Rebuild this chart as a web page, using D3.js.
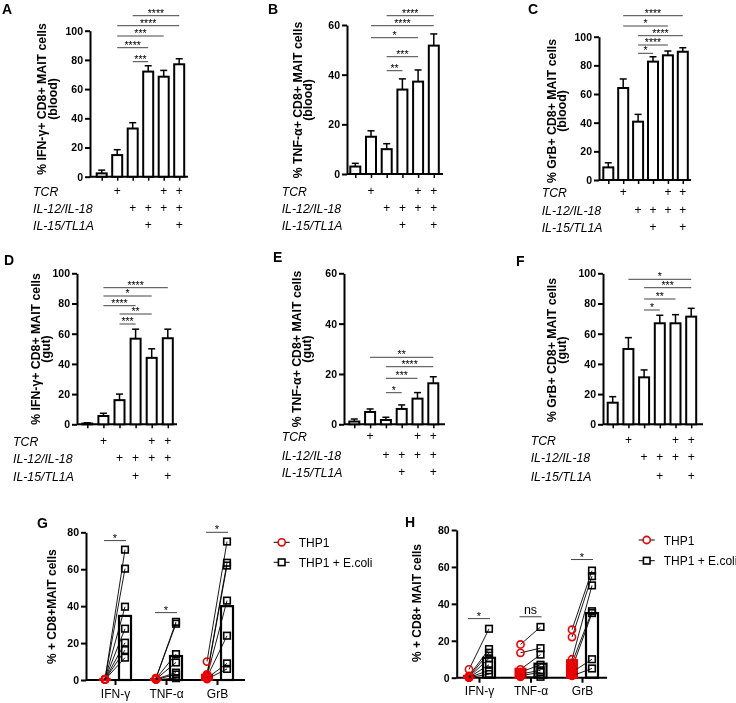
<!DOCTYPE html>
<html><head><meta charset="utf-8">
<script src="https://cdn.jsdelivr.net/npm/d3@7"></script>
<style>body{margin:0;background:#fff} svg{will-change:transform} text{font-family:"Liberation Sans", Arial, sans-serif}</style>
</head><body>
<svg id="c" width="736" height="703"></svg>
<script>
// ---------- DATA ----------
const conditions = ["none","TCR","IL12/18","IL12/18+IL15/TL1A","TCR+IL12/18","TCR+IL12/18+IL15/TL1A"];
const rowLabels = ["TCR","IL-12/IL-18","IL-15/TL1A"];
const tcrRow  = [0,1,0,0,1,1];
const il12Row = [0,0,1,1,1,1];
const il15Row = [0,0,0,1,0,1];

const aMean = [2.3, 14.8, 33, 72, 68.5, 77];
const aErr  = [4.5, 18.5, 37, 76, 72.8, 80.8];
const aSig  = [[2,5,"****"],[1,5,"****"],[1,4,"***"],[1,3,"****"],[2,3,"***"]];

const bMean = [3, 15, 10, 34, 37.2, 51.7];
const bErr  = [4.3, 17.4, 12.2, 38.3, 41.9, 56.4];
const bSig  = [[2,5,"****"],[1,5,"****"],[1,4,"*"],[2,4,"***"],[2,3,"**"]];

const cMean = [8.8, 64.2, 40.7, 82.6, 87, 89.5];
const cErr  = [12, 70.5, 45.8, 86, 90, 92.3];
const cSig  = [[1,5,"****"],[1,4,"*"],[2,5,"****"],[2,4,"****"],[2,3,"*"]];

const dMean = [0.5, 5.5, 16, 56.7, 44, 57];
const dErr  = [1, 7.3, 20, 63, 50, 63];
const dSig  = [[1,5,"****"],[1,4,"*"],[1,3,"****"],[2,4,"**"],[2,3,"***"]];

const eMean = [1.1, 4.9, 1.7, 6.1, 10.2, 16.3];
const eErr  = [2.1, 6.1, 2.8, 7.7, 12.6, 18.9];
const eSig  = [[1,5,"**"],[2,5,"****"],[2,4,"***"],[2,3,"*"]];

const fMean = [14.3, 49.9, 31.1, 66.9, 66.9, 71.3];
const fErr  = [18.3, 57.4, 36, 72.2, 72.6, 76.8];
const fSig  = [[1,5,"*"],[2,5,"***"],[2,4,"**"],[2,3,"*"]];

const yTicks100 = [0,20,40,60,80,100];
const yTicks60  = [0,20,40,60];
const yTicks80  = [0,20,40,60,80];

const cytokines = ["IFN-\u03b3","TNF-\u03b1","GrB"];
const seriesNames = ["THP1","THP1 + E.coli"];

// Panel G (per donor, paired)
const gThp1 = [
  [0.5,0.5,0.4,0.3,0.3,0.2,0.2],
  [1,1,0.8,0.5,0.5,0.3,0.2],
  [10,3,2.5,2,1.5,1,0.5]
];
const gEcoli = [
  [70.6,60.3,39.7,27.8,20.2,16.2,12.1],
  [31.5,30.5,14,9.5,4,3,1],
  [75,63.5,62,43,24,9,6]
];
const gThp1Bar  = [0.4, 0.6, 2.9];
const gEcoliBar = [34.7, 13, 40];
const gSig = ["*","*","*"];
const gSigVal = [75.5, 36.5, 80];

// Panel H
const hThp1 = [
  [4.5,1,0.5,0.3,0.2,0.1,0],
  [18,13.5,4.5,3,2,1,0.5],
  [26,22,10,8,5,3,1]
];
const hEcoli = [
  [26.5,15.5,13.5,10.5,7,4,2],
  [27.5,16,12.5,7,4,3,0.5],
  [58,55,50,36,35,10,5]
];
const hThp1Bar  = [1, 4.9, 9.5];
const hEcoliBar = [10.8, 7.6, 35];
const hSig = ["*","ns","*"];
const hSigVal = [32, 33, 64];

// ---------- DRAW ----------
const svg = d3.select("#c");
const FONT = '"Liberation Sans", Arial, sans-serif';

function panelLetter(t, x, y){
  svg.append("text").attr("x",x).attr("y",y).text(t)
    .attr("font-size",14).attr("font-weight","bold");
}

function yAxis(g, y, ticks, x){
  const ax = g.append("g").attr("transform",`translate(${x},0)`)
    .call(d3.axisLeft(y).tickValues(ticks).tickSize(5).tickSizeOuter(0).tickPadding(2));
  ax.select(".domain").attr("stroke","#000").attr("stroke-width",2);
  ax.selectAll(".tick line").attr("stroke","#000").attr("stroke-width",2);
  ax.selectAll(".tick text").attr("font-size",10.5).attr("font-weight","bold")
    .attr("font-family",FONT).attr("fill","#000");
}

function yLabel(lines, x1, x2, cy){
  lines.forEach((t,i)=>{
    svg.append("text").attr("transform",`translate(${i?x2:x1},${cy}) rotate(-90)`)
      .attr("text-anchor","middle").attr("dominant-baseline","central")
      .attr("font-size",12.3).attr("font-weight","bold").text(t);
  });
}

function barPanel(o){
  const g = svg.append("g");
  const y = d3.scaleLinear().domain([0,o.yMax]).range([o.y0,o.yTop]);
  const x = d3.scalePoint().domain(conditions).range([o.x0, o.x0+5*o.step]);
  const bw = 10;
  g.append("line").attr("x1",o.axisX).attr("x2",o.xEnd).attr("y1",o.y0).attr("y2",o.y0)
    .attr("stroke","#000").attr("stroke-width",2);
  const xa = g.append("g").attr("transform",`translate(0,${o.y0})`)
    .call(d3.axisBottom(x).tickSize(4).tickFormat(""));
  xa.select(".domain").remove();
  xa.selectAll(".tick line").attr("stroke","#000").attr("stroke-width",1.5);
  yAxis(g, y, o.ticks, o.axisX);
  conditions.forEach((c,i)=>{
    const cx = x(c);
    g.append("line").attr("x1",cx).attr("x2",cx).attr("y1",y(o.mean[i])).attr("y2",y(o.err[i]))
      .attr("stroke","#000").attr("stroke-width",1.5);
    g.append("line").attr("x1",cx-3.5).attr("x2",cx+3.5).attr("y1",y(o.err[i])).attr("y2",y(o.err[i]))
      .attr("stroke","#000").attr("stroke-width",1.5);
  });
  g.selectAll("rect.bar").data(o.mean).enter().append("rect")
    .attr("x",(d,i)=>x(conditions[i])-bw/2).attr("y",d=>y(d))
    .attr("width",bw).attr("height",d=>o.y0-y(d))
    .attr("fill","#fff").attr("stroke","#000").attr("stroke-width",2);
  o.sig.forEach((s,k)=>{
    const ly = o.sigY[k];
    g.append("line").attr("x1",x(conditions[s[0]])).attr("x2",x(conditions[s[1]]))
      .attr("y1",ly).attr("y2",ly).attr("stroke","#444").attr("stroke-width",1);
    g.append("text").attr("x",(x(conditions[s[0]])+x(conditions[s[1]]))/2).attr("y",ly+1)
      .attr("text-anchor","middle").attr("font-size",10.5).text(s[2]);
  });
  const rows = [tcrRow, il12Row, il15Row];
  rows.forEach((r,ri)=>{
    const by = o.rowY[ri]+4;
    g.append("text").attr("x",o.labX).attr("y",by).attr("font-size",12.3)
      .attr("font-style","italic").text(rowLabels[ri]);
    r.forEach((v,i)=>{ if(v) g.append("text").attr("x",x(conditions[i])).attr("y",by-1)
      .attr("text-anchor","middle").attr("font-size",12).attr("fill","#000").text("+"); });
  });
  yLabel(o.ylab, o.ylx1, o.ylx2, o.ylcy);
  panelLetter(o.letter, o.lx, o.ly);
}

barPanel({letter:"A",lx:2,ly:14,mean:aMean,err:aErr,sig:aSig,yMax:100,ticks:yTicks100,
  y0:176.7,yTop:30.7,axisX:90,x0:101.7,step:15.5,xEnd:188,labX:33,rowY:[192,209,226],
  sigY:[15.7,25.7,36,47.7,61.7],ylab:["% IFN-\u03b3+ CD8+ MAIT cells","(blood)"],ylx1:42,ylx2:53,ylcy:99});
barPanel({letter:"B",lx:268,ly:14,mean:bMean,err:bErr,sig:bSig,yMax:60,ticks:yTicks60,
  y0:174,yTop:25,axisX:347,x0:355.3,step:15.7,xEnd:443,labX:281.7,rowY:[192,209,226],
  sigY:[15.7,25.7,37.7,56.7,70.7],ylab:["% TNF-\u03b1+ CD8+ MAIT cells","(blood)"],ylx1:297.7,ylx2:308.3,ylcy:100});
barPanel({letter:"C",lx:528,ly:14,mean:cMean,err:cErr,sig:cSig,yMax:100,ticks:yTicks100,
  y0:180,yTop:36.7,axisX:599,x0:608.3,step:14.9,xEnd:691,labX:541.7,rowY:[192.7,210.5,227.7],
  sigY:[15.7,26,35.7,45,53.3],ylab:["% GrB+ CD8+ MAIT cells","(blood)"],ylx1:551.5,ylx2:561.5,ylcy:111});
barPanel({letter:"D",lx:4,ly:265,mean:dMean,err:dErr,sig:dSig,yMax:100,ticks:yTicks100,
  y0:424.3,yTop:273.3,axisX:77,x0:87.3,step:16.1,xEnd:177,labX:13,rowY:[441.5,459,477],
  sigY:[287.7,296,305.7,314,324],ylab:["% IFN-\u03b3+ CD8+ MAIT cells","(gut)"],ylx1:36,ylx2:46,ylcy:349});
barPanel({letter:"E",lx:273,ly:262,mean:eMean,err:eErr,sig:eSig,yMax:60,ticks:yTicks60,
  y0:424.3,yTop:273.3,axisX:344,x0:354.3,step:15.8,xEnd:445,labX:281.7,rowY:[436.5,455.5,472.5],
  sigY:[357.3,366.7,378.3,392.7],ylab:["% TNF-\u03b1+ CD8+ MAIT cells","(gut)"],ylx1:296.7,ylx2:307,ylcy:349});
barPanel({letter:"F",lx:516,ly:266,mean:fMean,err:fErr,sig:fSig,yMax:100,ticks:yTicks100,
  y0:424.3,yTop:273.3,axisX:603,x0:612.7,step:15.7,xEnd:703,labX:530.7,rowY:[440.5,458.3,477],
  sigY:[279.3,287.7,299,310],ylab:["% GrB+ CD8+ MAIT cells","(gut)"],ylx1:551.7,ylx2:561.7,ylcy:350});

function pairedPanel(o){
  const g = svg.append("g");
  const y = d3.scaleLinear().domain([0,80]).range([o.y0,o.yTop]);
  const x = d3.scalePoint().domain(cytokines).range([o.c0, o.c0+2*o.cstep]);
  const off = 10;
  g.append("line").attr("x1",o.axisX).attr("x2",o.xEnd).attr("y1",o.y0).attr("y2",o.y0)
    .attr("stroke","#000").attr("stroke-width",2);
  const xa = g.append("g").attr("transform",`translate(0,${o.y0})`)
    .call(d3.axisBottom(x).tickSize(5).tickPadding(4));
  xa.select(".domain").remove();
  xa.selectAll(".tick line").attr("stroke","#000").attr("stroke-width",2);
  xa.selectAll(".tick text").attr("font-size",12).attr("font-family",FONT).attr("fill","#000");
  yAxis(g, y, yTicks80, o.axisX);
  cytokines.forEach((c,i)=>{
    const xr = x(c)-off, xb = x(c)+off;
    g.append("rect").attr("x",xb-6).attr("y",y(o.eBar[i])).attr("width",12)
      .attr("height",o.y0-y(o.eBar[i])).attr("fill","none").attr("stroke","#000").attr("stroke-width",2.2);
    g.append("rect").attr("x",xr-5).attr("y",y(o.tBar[i])).attr("width",10)
      .attr("height",Math.max(o.y0-y(o.tBar[i]),0)).attr("fill","#e00").attr("stroke","#e00").attr("stroke-width",2);
    o.t[i].forEach((v,k)=>{
      g.append("line").attr("x1",xr).attr("y1",y(v)).attr("x2",xb).attr("y2",y(o.e[i][k]))
        .attr("stroke","#000").attr("stroke-width",0.9);
    });
    o.t[i].forEach(v=>{
      g.append("circle").attr("cx",xr).attr("cy",y(v)).attr("r",3.6)
        .attr("fill","none").attr("stroke","#e00").attr("stroke-width",1.6);
    });
    o.e[i].forEach(v=>{
      g.append("rect").attr("x",xb-3.3).attr("y",y(v)-3.3).attr("width",6.6).attr("height",6.6)
        .attr("fill","none").attr("stroke","#000").attr("stroke-width",1.6);
    });
    const ly = y(o.sigV[i]);
    g.append("line").attr("x1",xr-1).attr("x2",xb+1).attr("y1",ly).attr("y2",ly)
      .attr("stroke","#444").attr("stroke-width",1);
    if(o.sig[i]==="ns")
      g.append("text").attr("x",(xr+xb)/2).attr("y",ly-3).attr("text-anchor","middle")
        .attr("font-size",12.5).text("ns");
    else
      g.append("text").attr("x",(xr+xb)/2).attr("y",ly+1).attr("text-anchor","middle")
        .attr("font-size",11).text(o.sig[i]);
  });
  seriesNames.forEach((s,k)=>{
    const ly = o.legY[k];
    g.append("line").attr("x1",o.legX-8).attr("x2",o.legX+8).attr("y1",ly).attr("y2",ly)
      .attr("stroke","#000").attr("stroke-width",1);
    if(k===0) g.append("circle").attr("cx",o.legX).attr("cy",ly).attr("r",3.6)
      .attr("fill","#fff").attr("stroke","#e00").attr("stroke-width",1.6);
    else g.append("rect").attr("x",o.legX-3.3).attr("y",ly-3.3).attr("width",6.6).attr("height",6.6)
      .attr("fill","#fff").attr("stroke","#000").attr("stroke-width",1.6);
    g.append("text").attr("x",o.legX+17).attr("y",ly+4.5).attr("font-size",12).text(s);
  });
  svg.append("text").attr("transform",`translate(${o.ylx},${o.ylcy}) rotate(-90)`)
    .attr("text-anchor","middle").attr("dominant-baseline","central")
    .attr("font-size",12).attr("font-weight","bold").text(o.ylab);
  panelLetter(o.letter,o.lx,o.ly);
}

pairedPanel({letter:"G",lx:37,ly:528,t:gThp1,e:gEcoli,tBar:gThp1Bar,eBar:gEcoliBar,sig:gSig,sigV:gSigVal,
  y0:680,yTop:532.3,axisX:86,xEnd:245,c0:115,cstep:51,legX:281.7,legY:[542.3,562.3],
  ylab:"% + CD8+MAIT cells",ylx:51.7,ylcy:606.7});
pairedPanel({letter:"H",lx:405,ly:527,t:hThp1,e:hEcoli,tBar:hThp1Bar,eBar:hEcoliBar,sig:hSig,sigV:hSigVal,
  y0:677.7,yTop:530,axisX:456.7,xEnd:607,c0:479,cstep:51.5,legX:646.7,legY:[540,560.7],
  ylab:"% + CD8+ MAIT cells",ylx:416.7,ylcy:603});
</script>
</body></html>
